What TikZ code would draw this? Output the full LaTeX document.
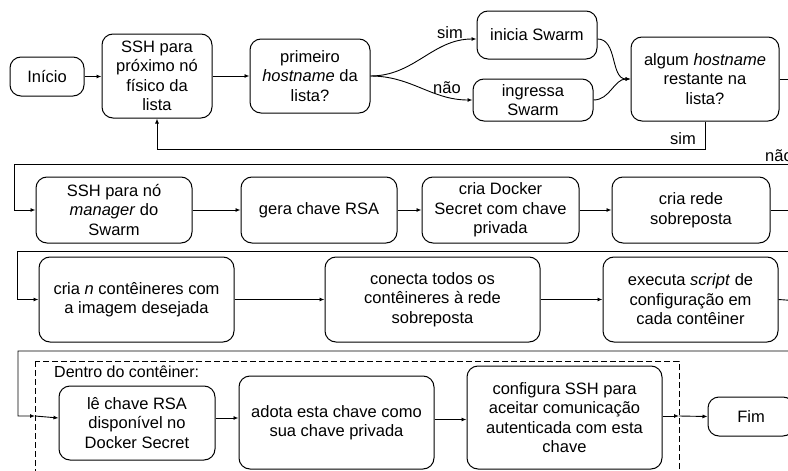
\documentclass[tikz,border=0pt]{standalone}
\usepackage{fontspec}
\setmainfont{Liberation Sans}
\usetikzlibrary{arrows.meta,calc}
\begin{document}
\begin{tikzpicture}[x=1pt,y=-1pt,
  box/.style={draw, rounded corners=11pt, line width=1pt, align=center, inner sep=2pt, font=\fontsize{16.5}{19.5}\selectfont},
  wh/.style 2 args={minimum width=#1pt, minimum height=#2pt},
  arr/.style={-{Latex[length=5pt,width=4pt]}, line width=0.9pt},
  lbl/.style={font=\fontsize{16.5}{19.5}\selectfont, inner sep=0pt}]
\clip (0,0) rectangle (788,471);
% row 1
\node[box, wh={74}{39}] (inicio) at (47,76.5) {Início};
\node[box, wh={110}{84}] (ssh1) at (157,76) {SSH para\\próximo nó\\físico da\\lista};
\node[box, wh={120}{74}] (prim) at (310,76) {primeiro\\\textit{hostname} da\\lista?};
\node[box, wh={120}{48}] (inicia) at (537,35) {inicia Swarm};
\node[box, wh={120}{42}] (ingressa) at (533,100) {ingressa\\Swarm};
\node[box, wh={148}{84}] (algum) at (705,79) {algum \textit{hostname}\\restante na\\lista?};
% row 2
\node[box, wh={156}{66}] (sshm) at (114,210) {SSH para nó\\\textit{manager} do\\Swarm};
\node[box, wh={156}{66}] (gera) at (319,210) {gera chave RSA};
\node[box, wh={157}{66}] (docker) at (500.5,210) {cria Docker\\Secret com chave\\privada};
\node[box, wh={158}{66}] (rede) at (691,210) {cria rede\\sobreposta};
% row 3
\node[box, wh={195}{85}] (crian) at (136.5,299.5) {cria \textit{n} contêineres com\\a imagem desejada};
\node[box, wh={215}{85}] (conecta) at (432.5,299.5) {conecta todos os\\contêineres à rede\\sobreposta};
\node[box, wh={175}{85}] (executa) at (690.5,299.5) {executa \textit{script} de\\configuração em\\cada contêiner};
% row 4
\draw[dash pattern=on 6pt off 3pt, line width=0.9pt] (35,361) rectangle (679,480);
\node[anchor=west, font=\fontsize{16}{19}\selectfont, inner sep=0pt] (dentro) at (54,372) {Dentro do contêiner:};
\node[box, wh={156}{74}] (le) at (137,423) {lê chave RSA\\disponível no\\Docker Secret};
\node[box, wh={195}{93}] (adota) at (336.5,422.5) {adota esta chave como\\sua chave privada};
\node[box, wh={195}{103}] (config) at (564.5,417.5) {configura SSH para\\aceitar comunicação\\autenticada com esta\\chave};
\node[box, wh={86}{39}] (fim) at (751,416.5) {Fim};
\coordinate (din) at (35,416);
\coordinate (dout) at (679,416);
% connectors row 1
\draw[arr] (inicio.east) -- (inicio.east -| ssh1.west);
\draw[arr] (ssh1.east) -- (ssh1.east -| prim.west);
\draw[arr] (prim.east) to[out=0,in=180] ([yshift=-4pt]inicia.west);
\draw[arr] (prim.east) to[out=0,in=180] (ingressa.west);
\draw[arr] ([yshift=-4pt]inicia.east) to[out=0,in=180] (algum.west);
\draw[arr] (ingressa.east) to[out=0,in=180] (algum.west);
\node[lbl] (lsim1) at (450,33) {sim};
\node[lbl] (lnao1) at (447,88) {não};
\draw[arr] (algum.south) |- ($(ssh1.south)+(0,31)$) -- (ssh1.south);
\node[lbl] (lsim2) at (683,139) {sim};
\draw[arr] (algum.east) -- (800,79) -- (800,164) -- (14,164) |- (sshm.west);
\node[lbl, anchor=west] (lnao2) at (765,156) {não};
% row 2
\draw[arr] (sshm.east) -- (gera.west);
\draw[arr] (gera.east) -- (docker.west);
\draw[arr] (docker.east) -- (rede.west);
\draw[arr] (rede.east) -- (800,210) -- (800,251) -- (17,251) |- (crian.west);
% row 3
\draw[arr] (crian.east) -- (conecta.west);
\draw[arr] (conecta.east) -- (executa.west);
\draw[arr] (executa.east) -- (800,301) -- (800,351) -- (18,351) |- (din);
% row 4
\draw[arr] (din) -- ([yshift=5pt]le.west);
\draw[arr] ([yshift=5pt]le.east) -- ([yshift=5pt]le.east -| adota.west);
\draw[arr] ([yshift=3pt]adota.east) -- ([yshift=3pt]adota.east -| config.west);
\draw[arr] ([yshift=1.5pt]config.east) -- (dout);
\draw[arr] (dout) -- (fim.west);
\end{tikzpicture}
\end{document}
